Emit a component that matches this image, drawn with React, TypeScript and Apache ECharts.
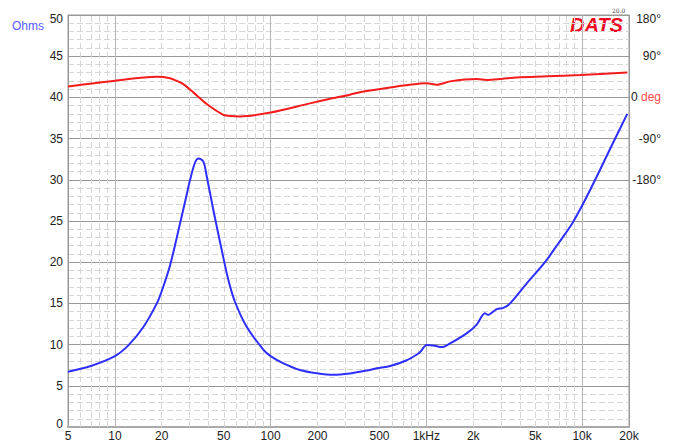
import React, { useEffect, useRef } from "react";
import * as echarts from "echarts";

// Impedance curve (Hz, Ohms)
const impFreq = [5, 7, 10, 12.2, 15.2, 18.6, 20, 22.6, 26.2, 28.2, 30.4, 32.7, 34.4, 37.0, 38.9, 42.9, 48.5, 53.6, 59, 70, 89.7, 100, 120, 154, 198, 253, 323, 414, 480, 586, 748, 860, 912, 1005, 1110, 1256, 1420, 1812, 2100, 2375, 2490, 2600, 2830, 3120, 3450, 4400, 5775, 7050, 8635, 10285, 12420, 15165, 19500];
const impOhms = [6.7, 7.4, 8.6, 9.9, 12.1, 15.0, 16.5, 19.6, 24.7, 27.3, 30.0, 32.1, 32.6, 32.2, 30.4, 26.3, 21.5, 17.8, 15.2, 12.2, 9.4, 8.6, 7.75, 6.92, 6.52, 6.33, 6.5, 6.85, 7.12, 7.4, 8.1, 8.74, 9.1, 9.95, 9.9, 9.7, 10.15, 11.37, 12.4, 13.8, 13.6, 13.8, 14.3, 14.45, 15.0, 17.4, 20.0, 22.3, 24.7, 27.3, 30.4, 33.8, 38.0];

// Phase curve (Hz, degrees)
const phaseFreq = [5, 10, 18.6, 22.6, 25, 27.5, 31.9, 38.9, 49.7, 55, 63.5, 100, 179, 241, 323, 394, 646, 912, 1005, 1167, 1420, 2100, 2440, 2970, 3800, 5970, 9725, 19500];
const phaseDeg = [24, 36.5, 45, 42, 36, 29, 11, -14.4, -38, -40.5, -41.5, -33, -13, -3, 6, 13, 24, 30.6, 31, 27.7, 35, 40, 38, 40, 43.7, 46, 49, 54.6];

// Axis ticks / labels
const freqTickValues = [5, 10, 20, 50, 100, 200, 500, 1000, 2000, 5000, 10000, 20000];
const freqTickLabels = ["5", "10", "20", "50", "100", "200", "500", "1kHz", "2k", "5k", "10k", "20k"];
const freqMajorLines = [10, 100, 1000, 10000];
const freqMinorLines = [6, 7, 8, 9, 20, 30, 40, 50, 60, 70, 80, 90, 200, 300, 400, 500, 600, 700, 800, 900, 2000, 3000, 4000, 5000, 6000, 7000, 8000, 9000];
const phaseLabelValues = [180, 90, 0, -90, -180];
const phaseLabelTexts = ["180°", "90°", "0 {r|deg}", "-90°", "-180°"];

const FONT = '"Liberation Sans", Arial, sans-serif';
const MINOR = { color: "#d6d6d6", width: 1, type: [6, 3] };

export default function App() {
  const ref = useRef<HTMLDivElement>(null);

  useEffect(() => {
    if (!ref.current) return;
    const chart = echarts.init(ref.current, null, { renderer: "svg" });
    const lg = (f: number) => Math.log10(f);

    const option: any = {
      animation: false,
      backgroundColor: "#ffffff",
      grid: {
        left: 68,
        right: 50,
        top: 15,
        bottom: 15,
        show: true,
        borderColor: "#999",
        borderWidth: 1,
        containLabel: false,
        outerBoundsMode: "none",
      },
      xAxis: {
        type: "value",
        min: lg(5),
        max: lg(20000),
        splitLine: { show: false },
        axisTick: { show: false },
        axisLine: { show: true, lineStyle: { color: "#aaa", width: 2 } },
        axisLabel: {
          customValues: freqTickValues.map(lg),
          margin: 3,
          color: "#222",
          fontSize: 12,
          fontFamily: FONT,
          formatter: (v: number) => {
            const i = freqTickValues.findIndex((f) => Math.abs(lg(f) - v) < 1e-6);
            return i >= 0 ? freqTickLabels[i] : "";
          },
        },
      },
      yAxis: [
        {
          type: "value",
          min: 0,
          max: 50,
          interval: 5,
          position: "left",
          axisLine: { show: true, lineStyle: { color: "#999", width: 1 } },
          axisTick: { show: false },
          minorTick: { show: false, splitNumber: 5 },
          splitLine: { show: true, lineStyle: { color: "#999", width: 1 } },
          minorSplitLine: { show: true, lineStyle: MINOR },
          axisLabel: {
            margin: 5,
            color: "#222",
            fontSize: 12,
            fontFamily: FONT,
            formatter: (v: number) => (v === 50 ? "{t|50}" : v === 0 ? "{b|0}" : String(v)),
            rich: {
              t: { padding: [8, 0, 0, 0] },
              b: { padding: [0, 0, 6, 0] },
            },
          },
        },
        {
          type: "value",
          min: -720,
          max: 180,
          interval: 90,
          position: "right",
          axisLine: { show: true, lineStyle: { color: "#999", width: 1 } },
          axisTick: { show: false },
          splitLine: { show: false },
          axisLabel: {
            margin: 32,
            align: "right",
            color: "#222",
            fontSize: 12,
            fontFamily: FONT,
            formatter: (v: number) => {
              const i = phaseLabelValues.indexOf(v);
              if (i < 0) return "";
              return v === 180 ? "{t|" + phaseLabelTexts[i] + "}" : phaseLabelTexts[i];
            },
            rich: {
              r: { color: "#ff4c4c", fontSize: 12, fontFamily: FONT },
              t: { padding: [8, 0, 0, 0] },
            },
          },
        },
      ],
      series: [
        {
          type: "line",
          name: "grid",
          data: [],
          z: 1,
          silent: true,
          markLine: {
            silent: true,
            symbol: ["none", "none"],
            label: { show: false },
            animation: false,
            data: [
              ...freqMinorLines.map((f) => ({
                xAxis: lg(f),
                lineStyle: MINOR,
              })),
              ...freqMajorLines.map((f) => ({
                xAxis: lg(f),
                lineStyle: { color: "#b5b5b5", width: 1, type: "solid" },
              })),
            ],
          },
        },
        {
          type: "line",
          name: "Impedance",
          yAxisIndex: 0,
          z: 5,
          data: impFreq.map((f, i) => [lg(f), impOhms[i]]),
          showSymbol: false,
          smooth: 0.3,
          lineStyle: { color: "#2e2eff", width: 2 },
        },
        {
          type: "line",
          name: "Phase",
          yAxisIndex: 1,
          z: 5,
          data: phaseFreq.map((f, i) => [lg(f), phaseDeg[i]]),
          showSymbol: false,
          smooth: 0.3,
          lineStyle: { color: "#f41c1c", width: 2 },
        },
      ],
      graphic: [
        {
          type: "text",
          left: 12,
          top: 20,
          style: { text: "Ohms", fill: "#5a5aff", font: '12px "Liberation Sans", Arial, sans-serif' },
        },
        {
          type: "text",
          left: 570,
          top: 15,
          style: { text: "DATS", fill: "#ee0a22", font: 'italic bold 20px "Liberation Sans", Arial, sans-serif' },
        },
        {
          type: "text",
          left: 612,
          top: 7,
          style: { text: "20.0", fill: "#444", font: '6px "DejaVu Serif", serif' },
        },
      ],
    };

    chart.setOption(option);
    return () => chart.dispose();
  }, []);

  return (
    <div
      ref={ref}
      style={{ position: "absolute", left: 0, top: 0, width: 679, height: 442, background: "#fff" }}
    />
  );
}
